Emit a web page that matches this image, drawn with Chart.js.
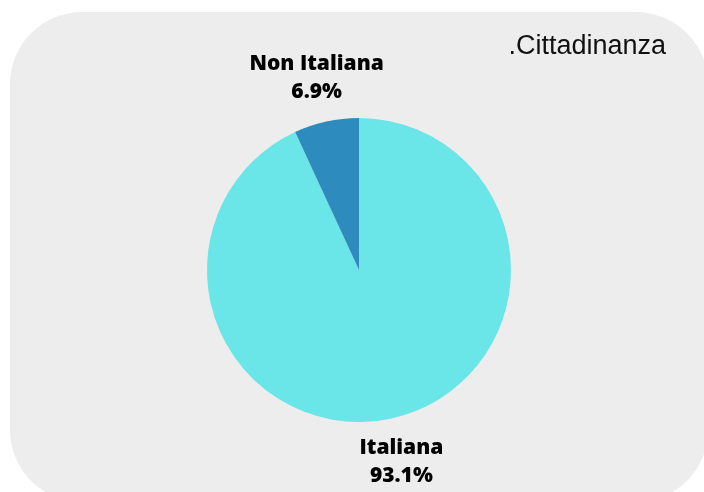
<!DOCTYPE html>
<html>
<head>
<meta charset="utf-8">
<script src="https://cdn.jsdelivr.net/npm/chart.js@4"></script>
<style>
  html, body { margin: 0; padding: 0; background: #ffffff; overflow: hidden; }
  #wrap { position: relative; width: 704px; height: 492px; overflow: hidden; }
  #panel {
    position: absolute; left: 10px; top: 12px; width: 698px; height: 490px;
    background: #ededed; border-radius: 72px;
  }
  #cit { position: absolute; left: 0; top: 0; }
</style>
</head>
<body>
<div id="wrap">
  <div id="panel"></div>
  <canvas id="cit" width="704" height="492"></canvas>
</div>
<script>
const categories = ['Italiana', 'Non Italiana'];
const shares = [93.1, 6.9];
const sliceColors = ['#6ae5e8', '#2e8bbd'];
const titleText = '.Cittadinanza';

// name + percentage written outside each slice, along its middle angle
const outsideLabels = {
  id: 'outsideLabels',
  afterDatasetsDraw(chart) {
    const ctx = chart.ctx;
    const meta = chart.getDatasetMeta(0);
    const data = chart.data.datasets[0].data;
    const total = data.reduce((a, b) => a + b, 0);
    ctx.save();
    ctx.fillStyle = '#000000';
    ctx.font = '800 21px "Open Sans"';
    ctx.textAlign = 'center';
    ctx.textBaseline = 'middle';
    meta.data.forEach((arc, i) => {
      const mid = (arc.startAngle + arc.endAngle) / 2;
      const r = arc.outerRadius + 45;
      const x = arc.x + Math.cos(mid) * r;
      const y = arc.y + Math.sin(mid) * r;
      ctx.fillText(chart.data.labels[i], x, y - 14);
      ctx.fillText((data[i] / total * 100).toFixed(1) + '%', x, y + 14);
    });
    ctx.restore();
  }
};

// title in the top right corner of the panel
const cornerTitle = {
  id: 'cornerTitle',
  afterDraw(chart) {
    const ctx = chart.ctx;
    ctx.save();
    ctx.fillStyle = '#111111';
    ctx.font = '27px "Liberation Sans"';
    ctx.textAlign = 'right';
    ctx.textBaseline = 'alphabetic';
    ctx.fillText(titleText, 666, 54);
    ctx.restore();
  }
};

new Chart(document.getElementById('cit'), {
  type: 'pie',
  data: {
    labels: categories,
    datasets: [{
      data: shares,
      backgroundColor: sliceColors,
      borderWidth: 0
    }]
  },
  options: {
    responsive: false,
    animation: false,
    layout: { padding: { top: 118, bottom: 70, left: 207, right: 193 } },
    plugins: {
      legend: { display: false },
      tooltip: { enabled: false }
    }
  },
  plugins: [outsideLabels, cornerTitle]
});
</script>
</body>
</html>
